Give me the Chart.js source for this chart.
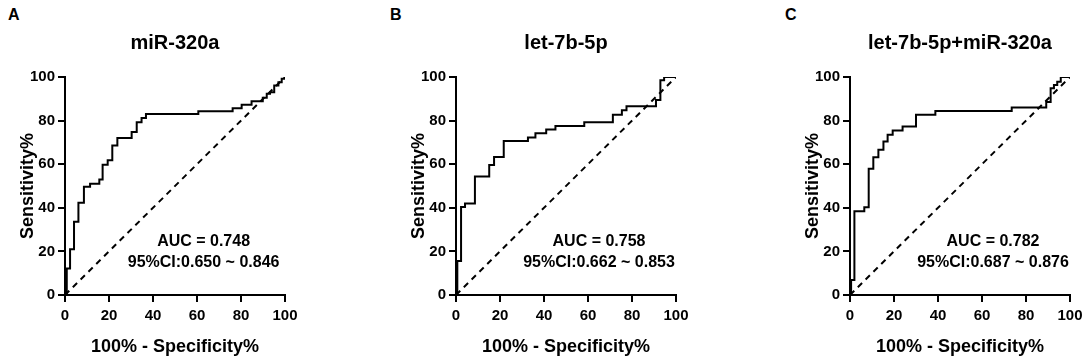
<!DOCTYPE html>
<html>
<head>
<meta charset="utf-8">
<script src="https://cdn.jsdelivr.net/npm/chart.js@4"></script>
<style>
  body { margin: 0; background: #fff; }
  #wrap { position: relative; width: 1084px; height: 356px; overflow: hidden; font-family: 'Liberation Sans', Arial, sans-serif; }
  canvas { position: absolute; top: 0; }
  .letter { position: absolute; top: 6px; font-weight: bold; font-size: 16px; color: #000; }
</style>
</head>
<body>
<div id="wrap">
  <div class="letter" style="left:8px">A</div>
  <div class="letter" style="left:390px">B</div>
  <div class="letter" style="left:785px">C</div>
  <canvas id="roc-a" width="299" height="356" style="left:0px"></canvas>
  <canvas id="roc-b" width="299" height="356" style="left:391px"></canvas>
  <canvas id="roc-c" width="299" height="356" style="left:785px"></canvas>
</div>
<script>
/* Data
================================================================ */

const axisTicks = [0, 20, 40, 60, 80, 100]

// miR-320a  (100% - specificity, sensitivity)
const fprA = [0, 0.8, 2.3, 4.1, 6.1, 8.6, 11.4, 15.6, 17.1, 19.4, 21.5, 23.8, 30.3, 32.6, 34.8, 36.8, 60.6, 76.2, 80.3, 84.8, 89.9, 91.7, 93.2, 95.1, 97, 98.5, 100]
const tprA = [0, 12.2, 21, 33.6, 42.3, 49.6, 51, 53, 59.8, 61.8, 68.6, 72, 74.8, 79.3, 81.2, 83, 84.3, 85.7, 87.3, 88.9, 90.5, 92.3, 93, 96.1, 97.6, 99.2, 100]

// let-7b-5p
const fprB = [0, 0.6, 2.3, 4.1, 8.6, 15.1, 17.3, 21.7, 32.7, 36.1, 41, 45.2, 58.3, 71.3, 75.4, 77.5, 90.9, 92.9, 94.6, 100]
const tprB = [0, 15.6, 40.4, 42, 54.4, 59.6, 63.3, 70.6, 72.2, 74.2, 75.9, 77.5, 79.2, 82.7, 84.7, 86.6, 89.5, 98.5, 100, 100]

// let-7b-5p+miR-320a
const fprC = [0, 0.5, 2, 6.5, 8.5, 10.6, 12.9, 15.2, 17.1, 19.4, 23.9, 30, 38.8, 73.5, 89.2, 91.2, 92.7, 94.2, 95.8, 100]
const tprC = [0, 6.9, 38.4, 40.3, 57.9, 63.2, 66.6, 70.4, 73.5, 75.5, 77.3, 82.7, 84.4, 86, 88.5, 94.8, 96.3, 97.8, 100, 100]

// reference line
const refX = [0, 100]
const refY = [0, 100]

const titles = ['miR-320a', 'let-7b-5p', 'let-7b-5p+miR-320a']
const aucText = [
  ['AUC = 0.748', '95%CI:0.650 ~ 0.846'],
  ['AUC = 0.758', '95%CI:0.662 ~ 0.853'],
  ['AUC = 0.782', '95%CI:0.687 ~ 0.876']
]

/* Chart setup
================================================================ */

Chart.defaults.font.family = "'Liberation Sans', Arial, sans-serif"
Chart.defaults.font.weight = 'bold'
Chart.defaults.color = '#000'

const toPoints = (xs, ys) => xs.map((x, i) => ({ x: x, y: ys[i] }))

// draws the AUC text at a data position inside the plot
const aucLabel = {
  id: 'aucLabel',
  afterDatasetsDraw(chart, args, opts) {
    const { ctx, scales } = chart
    ctx.save()
    ctx.font = "bold 16px 'Liberation Sans', Arial, sans-serif"
    ctx.fillStyle = '#000'
    ctx.textAlign = 'center'
    ctx.textBaseline = 'middle'
    opts.lines.forEach((line, i) => {
      ctx.fillText(line, scales.x.getPixelForValue(opts.x), scales.y.getPixelForValue(opts.y[i]))
    })
    ctx.restore()
  }
}

function axis(titleText, isX) {
  return {
    type: 'linear',
    min: 0,
    max: 100,
    afterBuildTicks: (scale) => {
      scale.ticks = axisTicks.map(v => ({ value: v }))
    },
    afterFit: (scale) => {
      if (isX) {
        scale.height = 61
        // the right margin comes from layout padding only
        scale.paddingLeft = 0
        scale.paddingRight = 0
      } else {
        scale.width = 65
      }
    },
    ticks: {
      font: { size: 15, weight: 'bold' },
      color: '#000',
      padding: isX ? 5 : 3,
      maxRotation: 0,
      autoSkip: false
    },
    grid: {
      display: true,
      drawOnChartArea: false,
      drawTicks: true,
      tickLength: 7,
      color: '#000',
      lineWidth: 2
    },
    border: { display: true, color: '#000', width: 2 },
    title: {
      display: true,
      text: titleText,
      color: '#000',
      font: { size: 18, weight: 'bold', lineHeight: 1 },
      padding: isX ? { top: 0, bottom: 0 } : { top: 19, bottom: 0 }
    }
  }
}

function makeRoc(canvasId, fpr, tpr, title, lines, labelX) {
  return new Chart(document.getElementById(canvasId), {
    type: 'line',
    data: {
      datasets: [
        {
          data: toPoints(fpr, tpr),
          stepped: true,
          borderColor: '#000',
          borderWidth: 2,
          pointRadius: 0,
          fill: false
        },
        {
          data: toPoints(refX, refY),
          borderColor: '#000',
          borderWidth: 2,
          borderDash: [6, 5],
          pointRadius: 0,
          fill: false
        }
      ]
    },
    options: {
      responsive: false,
      animation: false,
      events: [],
      layout: { padding: { left: 0, right: 14, top: 0, bottom: 0 } },
      scales: {
        x: axis('100% - Specificity%', true),
        y: axis('Sensitivity%', false)
      },
      plugins: {
        legend: { display: false },
        tooltip: { enabled: false },
        title: {
          display: true,
          text: title,
          fullSize: false,
          color: '#000',
          font: { size: 20, weight: 'bold', lineHeight: 1.2 },
          padding: { top: 31, bottom: 22 }
        },
        aucLabel: { x: labelX, y: [24.5, 15], lines: lines }
      }
    },
    plugins: [aucLabel]
  })
}

makeRoc('roc-a', fprA, tprA, titles[0], aucText[0], 63)
makeRoc('roc-b', fprB, tprB, titles[1], aucText[1], 65)
makeRoc('roc-c', fprC, tprC, titles[2], aucText[2], 65)
</script>
</body>
</html>
